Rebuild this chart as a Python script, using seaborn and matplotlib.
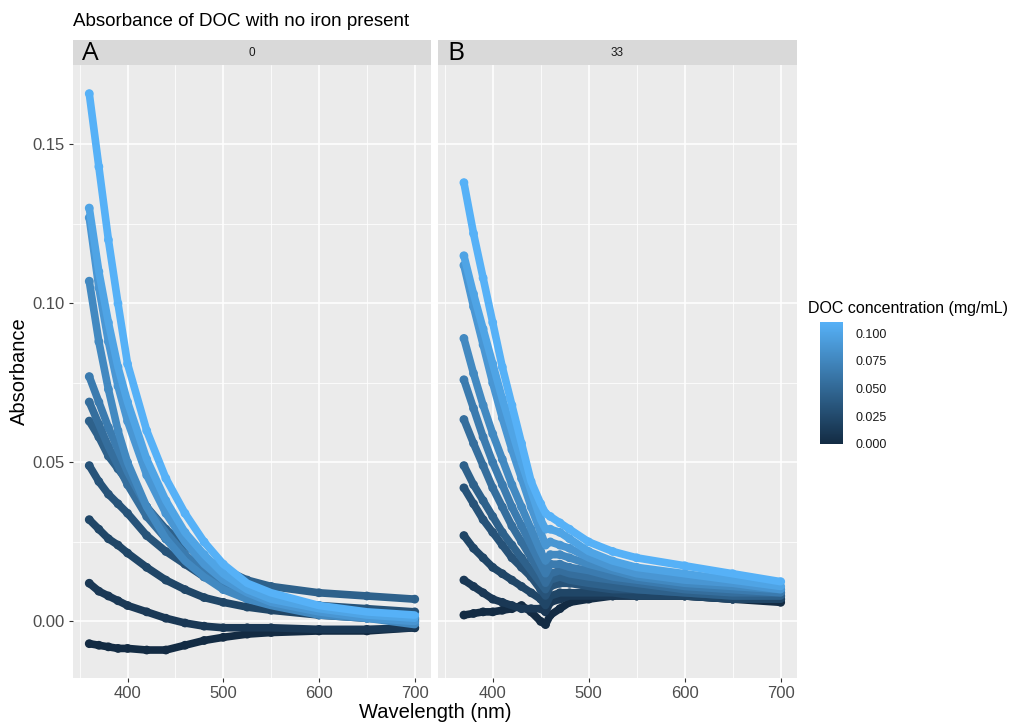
import numpy as np
import pandas as pd
import matplotlib
matplotlib.use("Agg")
import matplotlib.pyplot as plt
import seaborn as sns
from matplotlib.colors import LinearSegmentedColormap, Normalize
from matplotlib.colorbar import ColorbarBase

# ---------------- data ----------------
concentrations = [0.000, 0.011, 0.022, 0.033, 0.044, 0.055, 0.066, 0.077, 0.088, 0.099, 0.110]
panel_labels = ["0", "33"]

wl_a = [360, 370, 380, 390, 400, 420, 440, 460, 480, 500, 525, 550, 600, 650, 700]
abs_a = [
    [-0.007, -0.0075, -0.008, -0.0085, -0.0085, -0.009, -0.009, -0.0075, -0.006, -0.005, -0.004, -0.0035, -0.003, -0.003, -0.002],
    [0.012, 0.0095, 0.008, 0.0065, 0.005, 0.003, 0.001, -0.0005, -0.0015, -0.002, -0.002, -0.002, -0.0025, -0.0025, -0.002],
    [0.032, 0.029, 0.026, 0.024, 0.0215, 0.017, 0.013, 0.010, 0.0075, 0.006, 0.0045, 0.0035, 0.002, 0.001, 0.0005],
    [0.049, 0.044, 0.040, 0.037, 0.034, 0.027, 0.022, 0.018, 0.014, 0.012, 0.009, 0.007, 0.005, 0.004, 0.003],
    [0.063, 0.058, 0.052, 0.048, 0.044, 0.036, 0.029, 0.024, 0.020, 0.0165, 0.013, 0.011, 0.009, 0.008, 0.007],
    [0.069, 0.062, 0.055, 0.049, 0.043, 0.033, 0.026, 0.020, 0.015, 0.012, 0.008, 0.006, 0.003, 0.002, 0.001],
    [0.077, 0.069, 0.061, 0.054, 0.047, 0.036, 0.028, 0.021, 0.016, 0.012, 0.008, 0.006, 0.003, 0.002, 0.000],
    [0.107, 0.088, 0.073, 0.060, 0.050, 0.036, 0.026, 0.019, 0.014, 0.010, 0.007, 0.005, 0.002, 0.001, -0.001],
    [0.127, 0.105, 0.088, 0.074, 0.063, 0.046, 0.034, 0.025, 0.018, 0.013, 0.009, 0.006, 0.003, 0.001, 0.000],
    [0.130, 0.110, 0.094, 0.080, 0.069, 0.051, 0.038, 0.028, 0.021, 0.015, 0.010, 0.007, 0.004, 0.002, 0.001],
    [0.166, 0.143, 0.120, 0.100, 0.081, 0.060, 0.045, 0.034, 0.025, 0.018, 0.012, 0.009, 0.005, 0.003, 0.002],
]

wl_b = [370, 380, 390, 400, 410, 420, 430, 440, 450, 455, 460, 470, 480, 500, 525, 550, 600, 650, 700]
abs_b = [
    [0.002, 0.0025, 0.003, 0.003, 0.0035, 0.004, 0.005, 0.003, 0.000, -0.001, 0.002, 0.004, 0.006, 0.007, 0.008, 0.008, 0.008, 0.007, 0.006],
    [0.013, 0.011, 0.009, 0.007, 0.006, 0.005, 0.004, 0.004, 0.004, 0.003, 0.006, 0.007, 0.008, 0.008, 0.008, 0.008, 0.008, 0.007, 0.007],
    [0.027, 0.023, 0.020, 0.017, 0.015, 0.013, 0.011, 0.009, 0.007, 0.005, 0.008, 0.009, 0.009, 0.009, 0.009, 0.008, 0.008, 0.007, 0.007],
    [0.042, 0.037, 0.032, 0.028, 0.024, 0.020, 0.017, 0.014, 0.010, 0.008, 0.011, 0.012, 0.012, 0.011, 0.010, 0.010, 0.009, 0.008, 0.008],
    [0.049, 0.043, 0.038, 0.033, 0.028, 0.024, 0.020, 0.016, 0.012, 0.010, 0.013, 0.014, 0.013, 0.012, 0.011, 0.010, 0.009, 0.008, 0.008],
    [0.0635, 0.056, 0.049, 0.042, 0.036, 0.030, 0.025, 0.020, 0.015, 0.012, 0.015, 0.016, 0.015, 0.014, 0.013, 0.012, 0.010, 0.009, 0.009],
    [0.076, 0.067, 0.058, 0.050, 0.043, 0.036, 0.030, 0.024, 0.018, 0.015, 0.018, 0.018, 0.017, 0.016, 0.014, 0.013, 0.011, 0.010, 0.009],
    [0.089, 0.078, 0.068, 0.059, 0.051, 0.043, 0.036, 0.029, 0.022, 0.019, 0.021, 0.021, 0.020, 0.018, 0.016, 0.014, 0.012, 0.011, 0.010],
    [0.112, 0.099, 0.087, 0.075, 0.064, 0.054, 0.045, 0.036, 0.028, 0.024, 0.025, 0.024, 0.023, 0.020, 0.017, 0.015, 0.013, 0.012, 0.010],
    [0.115, 0.103, 0.092, 0.081, 0.070, 0.060, 0.050, 0.041, 0.032, 0.029, 0.029, 0.028, 0.026, 0.022, 0.019, 0.017, 0.015, 0.013, 0.011],
    [0.138, 0.122, 0.108, 0.094, 0.080, 0.068, 0.056, 0.044, 0.037, 0.034, 0.033, 0.031, 0.029, 0.025, 0.022, 0.020, 0.0175, 0.015, 0.0125],
]

x_ticks = [400, 500, 600, 700]
y_ticks = [0.00, 0.05, 0.10, 0.15]
y_tick_labels = ["0.00", "0.05", "0.10", "0.15"]
cbar_ticks = [0.000, 0.025, 0.050, 0.075, 0.100]
cbar_tick_labels = ["0.000", "0.025", "0.050", "0.075", "0.100"]

# ---------------- build long frame ----------------
rows = []
for panel, wl, series in [(panel_labels[0], wl_a, abs_a), (panel_labels[1], wl_b, abs_b)]:
    for c, vals in zip(concentrations, series):
        for w, v in zip(wl, vals):
            rows.append((panel, c, w, v))
df = pd.DataFrame(rows, columns=["panel", "conc", "wavelength", "absorbance"])

# ---------------- style ----------------
sns.set_theme(style="darkgrid")
plt.rcParams["font.family"] = ["Liberation Sans", "DejaVu Sans"]

cmap = LinearSegmentedColormap.from_list("gg", ["#132B43", "#56B1F7"])
norm = Normalize(vmin=0.0, vmax=0.11)

W, H = 1018, 724
fig = plt.figure(figsize=(W / 100, H / 100), dpi=100)
fig.patch.set_facecolor("white")

def fx(px):
    return px / W

def fy(py):
    return 1 - py / H

panel_top, panel_bot = 65, 678
panels_x = [(73, 431), (438, 797)]
letters = ["A", "B"]

xlim = (343, 717)
ylim = (-0.0178, 0.175)

for i, ((x0, x1), pl) in enumerate(zip(panels_x, panel_labels)):
    ax = fig.add_axes([fx(x0), fy(panel_bot), fx(x1 - x0), (panel_bot - panel_top) / H])
    ax.set_facecolor("#EBEBEB")
    sub = df[df["panel"] == pl]
    sns.lineplot(data=sub, x="wavelength", y="absorbance", hue="conc",
                 palette=cmap, hue_norm=norm, estimator=None, sort=True,
                 linewidth=5.5, legend=False, ax=ax,
                 solid_capstyle="round", solid_joinstyle="round")
    sns.scatterplot(data=sub, x="wavelength", y="absorbance", hue="conc",
                    palette=cmap, hue_norm=norm, s=40, linewidth=0,
                    legend=False, ax=ax)
    ax.set_xlim(*xlim)
    ax.set_ylim(*ylim)
    ax.set_xticks(x_ticks)
    ax.set_xticks([350, 450, 550, 650], minor=True)
    ax.set_yticks(y_ticks)
    ax.set_yticks([0.025, 0.075, 0.125], minor=True)
    ax.grid(which="major", color="white", linewidth=1.1)
    ax.grid(which="minor", color="white", linewidth=0.55)
    ax.set_axisbelow(True)
    for s in ax.spines.values():
        s.set_visible(False)
    ax.set_xlabel("")
    ax.set_ylabel("")
    ax.tick_params(axis="x", which="major", length=3, width=0.8, color="#333333",
                   labelsize=12, labelcolor="#4D4D4D", pad=3, bottom=True)
    ax.tick_params(which="minor", length=0)
    if i == 0:
        ax.set_yticklabels(y_tick_labels)
        ax.tick_params(axis="y", which="major", length=3, width=0.8, color="#333333",
                       labelsize=12, labelcolor="#4D4D4D", pad=3, left=True)
    else:
        ax.tick_params(axis="y", which="major", length=0, labelleft=False)

    # strip
    sax = fig.add_axes([fx(x0), fy(panel_top), fx(x1 - x0), 25 / H])
    sax.set_facecolor("#D9D9D9")
    sax.set_xticks([])
    sax.set_yticks([])
    sax.grid(False)
    for s in sax.spines.values():
        s.set_visible(False)
    sax.text(0.5, 0.5, pl, ha="center", va="center", fontsize=8.5, color="#1A1A1A",
             transform=sax.transAxes)
    fig.text(fx(x0 + 9), fy(53), letters[i], ha="left", va="center",
             fontsize=19, color="black", family=["Open Sans", "DejaVu Sans"])

# titles
fig.text(fx(73), fy(21), "Absorbance of DOC with no iron present", ha="left", va="center",
         fontsize=13.5, color="black")
fig.text(fx(435), fy(713), "Wavelength (nm)", ha="center", va="center",
         fontsize=14.5, color="black")
fig.text(fx(19), fy(371), "Absorbance", ha="center", va="center", rotation=90,
         fontsize=14.5, color="black")

# colour bar legend
cax = fig.add_axes([fx(820), fy(444), fx(23), 122 / H])
cb = ColorbarBase(cax, cmap=cmap, norm=norm, orientation="vertical")
cb.outline.set_visible(False)
cb.set_ticks(cbar_ticks)
cb.set_ticklabels(cbar_tick_labels)
cax.tick_params(axis="y", which="both", direction="in", length=4, width=0.8, color="white",
                left=True, right=True, labelleft=False, labelright=True,
                labelsize=9, labelcolor="#1A1A1A", pad=9)
cax.minorticks_off()
fig.text(fx(808), fy(309), "DOC concentration (mg/mL)", ha="left", va="center",
         fontsize=11.5, color="black")

fig.savefig("out.png", dpi=100, facecolor="white")
